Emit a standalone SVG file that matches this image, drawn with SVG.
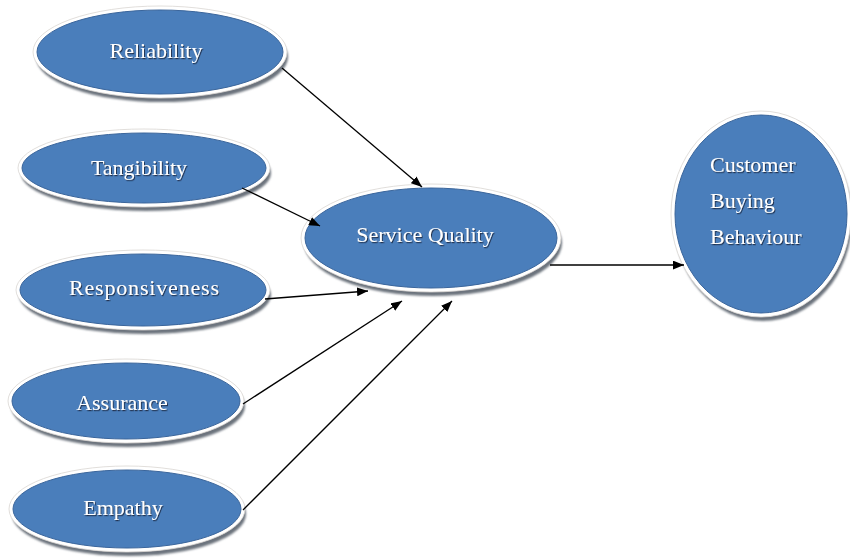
<svg xmlns="http://www.w3.org/2000/svg" width="850" height="559" viewBox="0 0 850 559">
  <defs>
    <filter id="soft" x="-10%" y="-10%" width="120%" height="130%">
      <feGaussianBlur stdDeviation="1.2"/>
    </filter>
    <filter id="txtShadow" x="-10%" y="-20%" width="120%" height="150%">
      <feDropShadow dx="1" dy="1.2" stdDeviation="0.6" flood-color="#1c2e48" flood-opacity="0.9"/>
    </filter>
    <marker id="arrow" viewBox="0 0 10 8" refX="10" refY="4" markerWidth="11" markerHeight="9" markerUnits="userSpaceOnUse" orient="auto">
      <path d="M0,0 L10,4 L0,8 z" fill="#000"/>
    </marker>
  </defs>
  <style>
    .shadow { fill: #6c737d; filter: url(#soft); }
    .rim { fill: #ffffff; stroke: #d9d6d2; stroke-width: 0.8; }
    .body { fill: #4a7ebb; stroke: #3a659b; stroke-width: 1; }
    .label { font-family: "Liberation Serif", "Times New Roman", serif; font-size: 22px; fill: #ffffff; filter: url(#txtShadow); }
    .mid { text-anchor: middle; }
    .link { stroke: #000; stroke-width: 1.3; fill: none; marker-end: url(#arrow); }
  </style>
  <rect width="850" height="559" fill="#ffffff"/>

  <g id="reliability">
    <ellipse class="shadow" cx="162" cy="57" rx="126" ry="45"/>
    <ellipse class="rim" cx="160" cy="52" rx="127" ry="46"/>
    <ellipse class="body" cx="160" cy="52" rx="123" ry="42"/>
    <text class="label mid" x="156" y="58">Reliability</text>
  </g>

  <g id="tangibility">
    <ellipse class="shadow" cx="146" cy="173" rx="125" ry="38"/>
    <ellipse class="rim" cx="144" cy="168" rx="126" ry="39"/>
    <ellipse class="body" cx="144" cy="168" rx="122" ry="35"/>
    <text class="label mid" x="139" y="175">Tangibility</text>
  </g>

  <g id="responsiveness">
    <ellipse class="shadow" cx="145" cy="295" rx="126" ry="39"/>
    <ellipse class="rim" cx="143" cy="290" rx="127" ry="40"/>
    <ellipse class="body" cx="143" cy="290" rx="123" ry="36"/>
    <text class="label mid" x="144" y="295" textLength="150" lengthAdjust="spacing">Responsiveness</text>
  </g>

  <g id="assurance">
    <ellipse class="shadow" cx="128" cy="406" rx="117" ry="41"/>
    <ellipse class="rim" cx="126" cy="401" rx="118" ry="42"/>
    <ellipse class="body" cx="126" cy="401" rx="114" ry="38"/>
    <text class="label mid" x="122" y="410">Assurance</text>
  </g>

  <g id="empathy">
    <ellipse class="shadow" cx="129" cy="514" rx="117" ry="42"/>
    <ellipse class="rim" cx="127" cy="509" rx="118" ry="43"/>
    <ellipse class="body" cx="127" cy="509" rx="114" ry="39"/>
    <text class="label mid" x="123" y="515">Empathy</text>
  </g>

  <g id="service-quality">
    <ellipse class="shadow" cx="433" cy="243" rx="129" ry="53"/>
    <ellipse class="rim" cx="431" cy="238" rx="130" ry="54"/>
    <ellipse class="body" cx="431" cy="238" rx="126" ry="50"/>
    <text class="label mid" x="425" y="242">Service Quality</text>
  </g>

  <g id="customer-buying-behaviour">
    <ellipse class="shadow" cx="763" cy="219" rx="89" ry="102"/>
    <ellipse class="rim" cx="761" cy="214" rx="90" ry="103"/>
    <ellipse class="body" cx="761" cy="214" rx="86" ry="99"/>
    <text class="label" x="710" y="172">Customer</text>
    <text class="label" x="710" y="208">Buying</text>
    <text class="label" x="710" y="244">Behaviour</text>
  </g>

  <!-- arrows drawn last so their heads sit over the node rims -->
  <g id="connectors">
    <line class="link" x1="282" y1="68" x2="422" y2="187"/>
    <line class="link" x1="242" y1="188" x2="320" y2="226"/>
    <line class="link" x1="265" y1="299" x2="368" y2="291"/>
    <line class="link" x1="243" y1="404" x2="402" y2="301"/>
    <line class="link" x1="243" y1="510" x2="452" y2="301"/>
    <line class="link" x1="550" y1="265" x2="684" y2="265"/>
  </g>
</svg>
